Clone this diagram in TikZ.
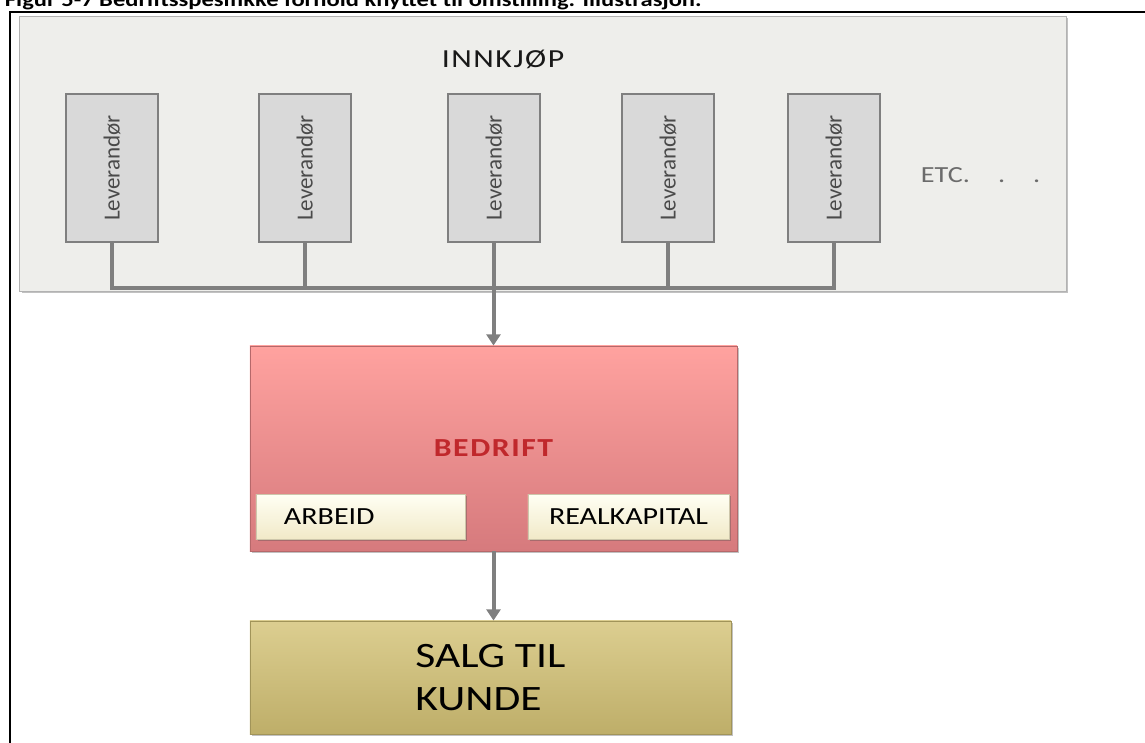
\documentclass[tikz,border=0pt]{standalone}
\usepackage{graphicx}
\usepackage{fontspec}
\setmainfont{Carlito}
\newfontfamily\widefont{Carlito}[FakeStretch=1.22]
\newfontfamily\spacedfont{Carlito}[FakeStretch=1.22, LetterSpace=6]
\usepackage{tikz}
\usetikzlibrary{arrows.meta}
\usetikzlibrary{positioning, calc, shadows}

\definecolor{panelgray}{HTML}{EEEEEB}
\definecolor{busgray}{HTML}{7F7F7F}
\definecolor{levgray}{HTML}{D9D9D9}
\definecolor{levtext}{HTML}{4A4A4A}
\definecolor{redtop}{HTML}{FFA29F}
\definecolor{redbottom}{HTML}{D67A7D}
\definecolor{redtext}{HTML}{C0282C}
\definecolor{creamtop}{HTML}{FFFFF3}
\definecolor{creambottom}{HTML}{F1E9C8}
\definecolor{olivetop}{HTML}{DCCE90}
\definecolor{olivebottom}{HTML}{BEAE69}

\begin{document}
\begin{tikzpicture}[
    x=0.025cm, y=-0.025cm,
    bus/.style={draw=busgray, line width=2.85pt},
    flow arrow/.style={bus, -{Triangle[width=10pt, length=8pt]}},
    soft shadow/.style={drop shadow={shadow xshift=1.2pt, shadow yshift=-1.2pt, opacity=.35, fill=black!70}},
    panel/.style={soft shadow, fill=panelgray, draw=black!30, line width=.6pt, minimum width=26.15cm, minimum height=6.875cm, inner sep=0pt},
    lev box/.style={draw=busgray, fill=levgray, line width=1pt, minimum width=2.3cm, minimum height=3.7cm, inner sep=0pt, text=levtext, font=\fontsize{16.4}{19}\selectfont},
    cream box/.style={soft shadow, top color=creamtop, bottom color=creambottom, draw=creambottom!85!black, line width=.4pt, minimum height=1.125cm, inner sep=0pt, font=\widefont\fontsize{17.5}{20}\selectfont},
    block/.style={soft shadow, inner sep=0pt, line width=.6pt}
]
    \useasboundingbox (0,0) rectangle (1145,743);

    \node[anchor=base west, font=\widefont\bfseries\fontsize{14.3}{16}\selectfont] (figtekst) at (0,7) {Figur 5-7 Bedriftsspesifikke forhold knyttet til omstilling. Illustrasjon.};
    \draw[line width=1.4pt] (1150,12) -- (10,12) -- (10,750);

    \node[panel] (innkjop) at (543,153.5) {};
    \node[anchor=base, text=black!90, font=\spacedfont\fontsize{18.5}{22}\selectfont] (tittel) at (503,67) {INNKJØP};

    \foreach \x [count=\i from 0] in {112, 305, 494, 668, 834} {
        \node[lev box] (l\i) at (\x,168) {\rotatebox{90}{Leverandør}};
    }
    \node[anchor=base west, text=black!58, font=\widefont\fontsize{16.4}{19}\selectfont] (etc) at (916,182) {ETC.\hspace{20pt}.\hspace{20pt}.};

    \node[block, top color=redtop, bottom color=redbottom, draw=redbottom!85!black, minimum width=12.175cm, minimum height=5.125cm,
          text=redtext, font=\spacedfont\bfseries\fontsize{18.5}{22}\selectfont] (bedrift) at (493.5,448.5) {BEDRIFT};
    \node[cream box, minimum width=5.225cm, text width=3.825cm, align=left] (arbeid) at (360.5,517) {ARBEID};
    \node[cream box, minimum width=5.025cm] (kapital) at (628.5,517) {REALKAPITAL};

    \node[block, top color=olivetop, bottom color=olivebottom, draw=olivebottom!85!black, minimum width=12.025cm, minimum height=2.825cm,
          align=left, font=\widefont\fontsize{25.4}{30.6}\selectfont] (salg) at (490.5,677.5) {SALG TIL\\KUNDE};

    % leverandører til innkjøp
    \coordinate (bus) at (0,288);
    \draw[bus] (l0.south) |- (l4.south |- bus) -- (l4.south);
    \foreach \i in {1,2,3} {
        \draw[bus] (l\i.south) -- (l\i.south |- bus);
    }

    \draw[flow arrow] (bedrift.north |- bus) -- (bedrift.north);
    \draw[flow arrow] (bedrift.south) -- (bedrift.south |- salg.north);
\end{tikzpicture}
\end{document}
